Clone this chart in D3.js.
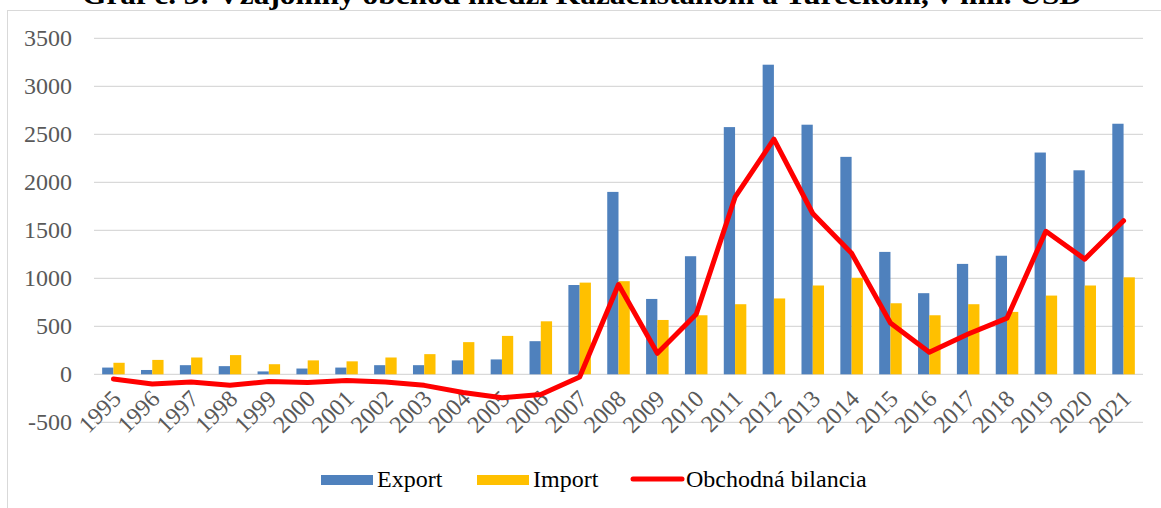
<!DOCTYPE html>
<html>
<head>
<meta charset="utf-8">
<script src="https://cdn.jsdelivr.net/npm/d3@7"></script>
<style>
  body { margin: 0; background: #fff; }
  svg { display: block; }
</style>
</head>
<body>
<div id="chart"></div>
<script>
// data, mil. USD
var years = ["1995","1996","1997","1998","1999","2000","2001","2002","2003","2004","2005","2006","2007",
             "2008","2009","2010","2011","2012","2013","2014","2015","2016","2017","2018","2019","2020","2021"];
var exportVals = [70, 45, 95, 85, 30, 60, 70, 95, 95, 145, 155, 345, 930,
                  1900, 785, 1230, 2575, 3225, 2600, 2265, 1275, 845, 1150, 1235, 2310, 2125, 2610];
var importVals = [120, 150, 175, 200, 105, 145, 135, 175, 210, 335, 400, 552, 955,
                  970, 566, 615, 730, 790, 925, 1005, 740, 615, 730, 650, 820, 925, 1010];
var balanceVals = [-50, -100, -80, -115, -75, -85, -65, -80, -115, -190, -245, -210, -28,
                   935, 219, 625, 1845, 2450, 1675, 1260, 535, 230, 420, 585, 1490, 1200, 1600];
var yTicks = [-500, 0, 500, 1000, 1500, 2000, 2500, 3000, 3500];
var seriesNames = ["Export", "Import", "Obchodná bilancia"];
var title = "Graf č. 3: Vzájomný obchod medzi Kazachstanom a Tureckom, v mil. USD";

var width = 1161, height = 508;
var margin = {left: 94, right: 18, top: 38.3, bottom: 86};

var svg = d3.select("#chart").append("svg")
    .attr("width", width)
    .attr("height", height);

// chart frame
svg.append("rect")
    .attr("x", 7.5).attr("y", 10.5)
    .attr("width", width + 10).attr("height", height + 10)
    .attr("fill", "none")
    .attr("stroke", "#d9d9d9")
    .attr("stroke-width", 1);

// title, clipped by the top of the picture like in the original
svg.append("text")
    .attr("x", 582).attr("y", 4)
    .attr("text-anchor", "middle")
    .attr("textLength", 1000)
    .attr("lengthAdjust", "spacingAndGlyphs")
    .style("font-family", "'Liberation Serif', 'Times New Roman', serif")
    .style("font-weight", "bold")
    .style("font-size", "27px")
    .text(title);

var x = d3.scaleBand()
    .domain(years)
    .range([margin.left, width - margin.right])
    .paddingInner(0.42)
    .paddingOuter(0.21);

var xSub = d3.scaleBand()
    .domain(["export", "import"])
    .range([0, x.bandwidth()]);

var y = d3.scaleLinear()
    .domain([-500, 3500])
    .range([422.3, margin.top]);

// gridlines
svg.append("g")
    .selectAll("line")
    .data(yTicks)
    .enter().append("line")
    .attr("x1", margin.left).attr("x2", width - margin.right)
    .attr("y1", function(d) { return y(d); })
    .attr("y2", function(d) { return y(d); })
    .attr("stroke", "#d9d9d9")
    .attr("stroke-width", 1.3);

// y axis labels (plain hyphen for negatives, no thousands separator)
var yAxis = d3.axisLeft(y).tickValues(yTicks).tickSize(0).tickPadding(22)
    .tickFormat(function(d) { return String(d); });
svg.append("g")
    .attr("transform", "translate(" + margin.left + ",0)")
    .call(yAxis)
    .call(function(g) { g.select(".domain").remove(); })
    .selectAll("text")
    .style("font-family", "'Liberation Serif', 'Times New Roman', serif")
    .style("font-size", "24px")
    .attr("fill", "#595959");

// bars
var groups = svg.append("g")
    .selectAll("g")
    .data(years)
    .enter().append("g")
    .attr("transform", function(d) { return "translate(" + x(d) + ",0)"; });

groups.append("rect")
    .attr("x", xSub("export"))
    .attr("width", xSub.bandwidth())
    .attr("y", function(d, i) { return y(Math.max(0, exportVals[i])); })
    .attr("height", function(d, i) { return Math.abs(y(exportVals[i]) - y(0)); })
    .attr("fill", "#4f81bd");

groups.append("rect")
    .attr("x", xSub("import"))
    .attr("width", xSub.bandwidth())
    .attr("y", function(d, i) { return y(Math.max(0, importVals[i])); })
    .attr("height", function(d, i) { return Math.abs(y(importVals[i]) - y(0)); })
    .attr("fill", "#ffc000");

// x axis labels, rotated
var xAxis = d3.axisBottom(x).tickSize(0).tickPadding(0);
svg.append("g")
    .attr("transform", "translate(0," + y(0) + ")")
    .call(xAxis)
    .call(function(g) { g.select(".domain").remove(); })
    .selectAll("text")
    .style("font-family", "'Liberation Serif', 'Times New Roman', serif")
    .style("font-size", "24px")
    .attr("fill", "#595959")
    .attr("text-anchor", "end")
    .attr("y", 0)
    .attr("dy", "0")
    .attr("transform", "translate(9,26) rotate(-45)");

// balance line
var line = d3.line()
    .x(function(d, i) { return x(years[i]) + x.bandwidth() / 2; })
    .y(function(d) { return y(d); });

svg.append("path")
    .datum(balanceVals)
    .attr("d", line)
    .attr("fill", "none")
    .attr("stroke", "#ff0000")
    .attr("stroke-width", 5)
    .attr("stroke-linejoin", "round")
    .attr("stroke-linecap", "round");

// legend
var legend = svg.append("g")
    .style("font-family", "'Liberation Serif', 'Times New Roman', serif")
    .style("font-size", "24px")
    .attr("fill", "#000");

legend.append("rect").attr("x", 321).attr("y", 475).attr("width", 52).attr("height", 10).attr("fill", "#4f81bd");
legend.append("text").attr("x", 377).attr("y", 487).text(seriesNames[0]);
legend.append("rect").attr("x", 477).attr("y", 475).attr("width", 52).attr("height", 10).attr("fill", "#ffc000");
legend.append("text").attr("x", 533).attr("y", 487).text(seriesNames[1]);
legend.append("line").attr("x1", 633).attr("x2", 682).attr("y1", 479).attr("y2", 479)
    .attr("stroke", "#ff0000").attr("stroke-width", 5).attr("stroke-linecap", "round");
legend.append("text").attr("x", 686).attr("y", 487).text(seriesNames[2]);
</script>
</body>
</html>
